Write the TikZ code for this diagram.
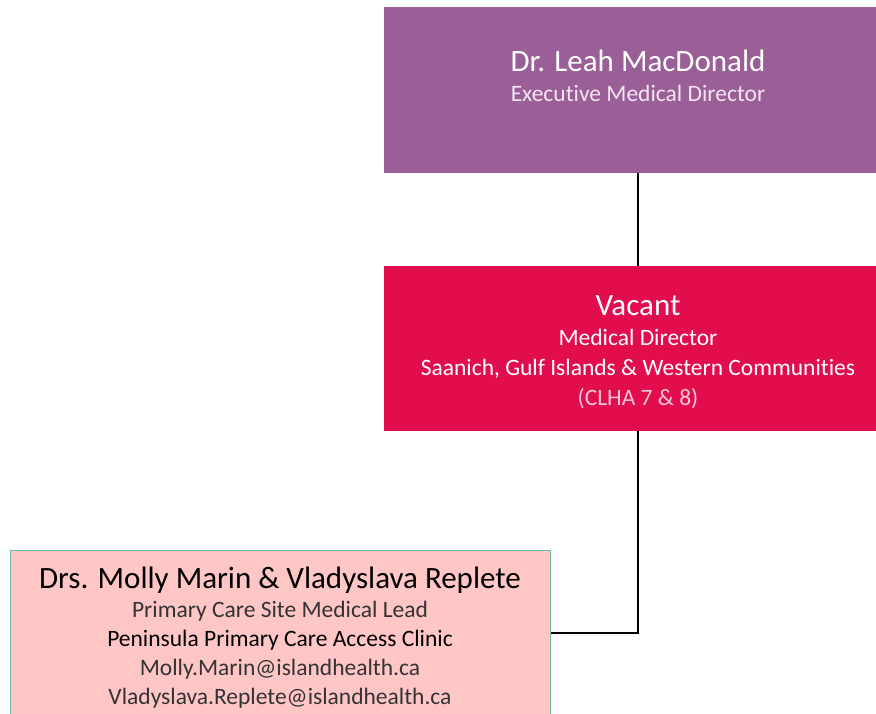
\documentclass[tikz,border=0pt]{standalone}
\usepackage{fontspec}
\setmainfont[Ligatures=NoCommon]{Carlito}
\definecolor{execpurple}{HTML}{9B5F98}
\definecolor{mdred}{HTML}{E10D4C}
\definecolor{leadpink}{HTML}{FFC6C6}
\definecolor{leadgreen}{HTML}{6DBB98}
\definecolor{softwhite}{HTML}{F2E4F1}
\definecolor{softpink}{HTML}{F8C6D6}
\definecolor{darktext}{HTML}{333333}

\begin{document}
\begin{tikzpicture}[x=1pt, y=-1pt,
    box/.style={rectangle, inner sep=0pt, minimum width=508pt, minimum height=166pt},
    role/.style={align=center, inner sep=0pt, anchor=base, font=\fontsize{23.5}{30}\selectfont},
    conn/.style={line width=2pt, black}]
	\useasboundingbox (0, 0) rectangle (876, 714);
	\clip (0, 0) rectangle (876, 714);
	% boxes
	\draw (638, 90) node [box, fill=execpurple] (exec) {};
	\draw (638, 348.5) node [box, fill=mdred, minimum height=165pt] (md) {};
	\draw (280, 633) node [box, fill=leadpink, draw=leadgreen, line width=1pt, minimum width=540pt] (lead) {};
	% texts (anchored on the last line)
	\draw (638, 102) node [role, text=white] (exectext) {{\fontsize{31}{30}\selectfont Dr. Leah MacDonald}\\
		\textcolor{softwhite}{Executive Medical Director}};
	\draw (638, 405) node [role, text=white] (mdtext) {{\fontsize{31}{30}\selectfont Vacant}\\
		Medical Director\\
		Saanich, Gulf Islands \& Western Communities\\
		\textcolor{softpink}{(CLHA 7 \& 8)}};
	\draw (280, 704) node [role, text=darktext, font=\fontsize{23.5}{29}\selectfont] (leadtext) {{\fontsize{31}{29}\selectfont\color{black} Drs. Molly Marin \& Vladyslava Replete}\\
		Primary Care Site Medical Lead\\
		\textcolor{black}{Peninsula Primary Care Access Clinic}\\
		Molly.Marin@islandhealth.ca\\
		Vladyslava.Replete@islandhealth.ca};
	% connectors
	\draw [conn] (exec) -- (md);
	\draw [conn] (md) |- (lead);
\end{tikzpicture}
\end{document}
